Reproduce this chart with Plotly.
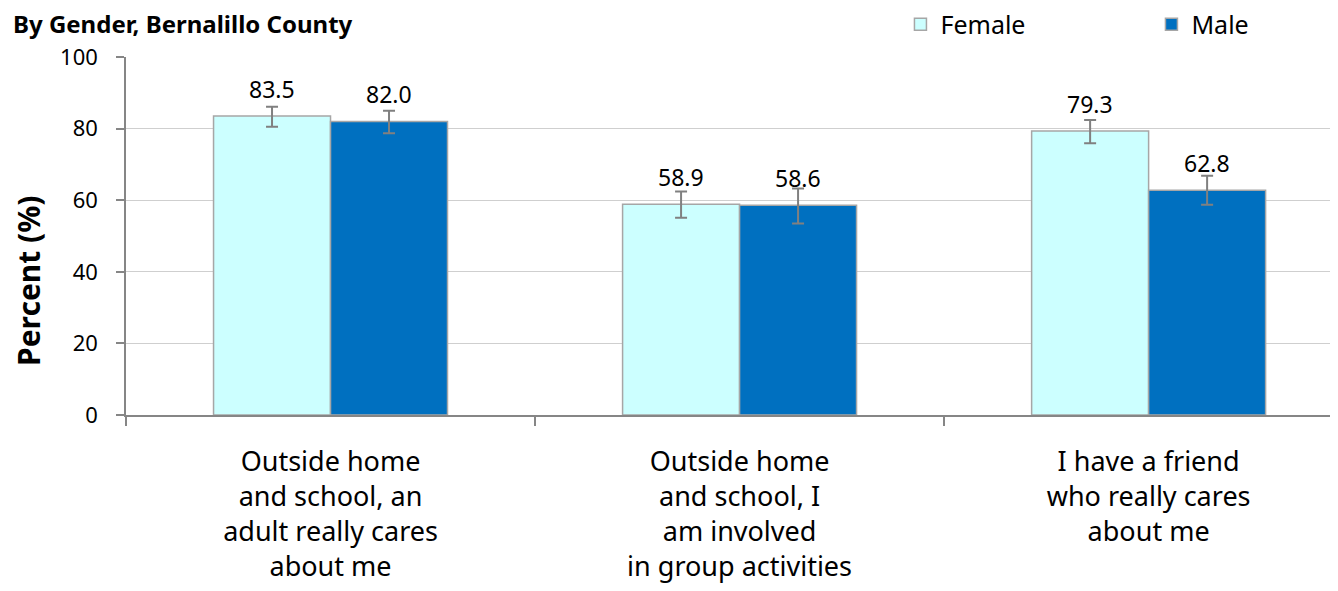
import plotly.graph_objects as go

# data
categories = [
    "Outside home<br>and school, an<br>adult really cares<br>about me",
    "Outside home<br>and school, I<br>am involved<br>in group activities",
    "I have a friend<br>who really cares<br>about me",
]
female = [83.5, 58.9, 79.3]
male = [82.0, 58.6, 62.8]
female_plus = [2.6, 3.5, 3.1]
female_minus = [3.0, 3.8, 3.4]
male_plus = [3.0, 4.7, 4.0]
male_minus = [3.3, 5.1, 4.1]

font_family = "Noto Sans"
colors = {"Female": "#CCFFFF", "Male": "#0070C0"}

fig = go.Figure()

series = [
    ("Female", female, female_plus, female_minus),
    ("Male", male, male_plus, male_minus),
]
for name, vals, plus, minus in series:
    fig.add_trace(go.Bar(
        name=name,
        x=categories,
        y=vals,
        marker=dict(color=colors[name], line=dict(color="#A6A6A6", width=1.5)),
        error_y=dict(type="data", symmetric=False, array=plus, arrayminus=minus,
                     color="#808080", thickness=2, width=6),
    ))

# value labels above each bar
for i, (name, vals, _, _) in enumerate(series):
    shift = -58.5 if i == 0 else 58.5
    for cat, v in zip(categories, vals):
        fig.add_annotation(x=cat, y=v, text=f"{v:.1f}", showarrow=False,
                           xshift=shift, yshift=27, yanchor="middle",
                           font=dict(size=23, color="#000000", family=font_family))

fig.add_annotation(text="<b>Percent (%)</b>", textangle=-90, showarrow=False,
                   xref="paper", yref="paper", x=-0.081, y=0.374,
                   xanchor="center", yanchor="middle",
                   font=dict(size=30, color="#000000", family=font_family))

# chart title in the top-left corner
fig.add_annotation(text="<b>By Gender, Bernalillo County</b>", showarrow=False,
                   xref="paper", yref="paper", x=-0.095, y=1.093,
                   xanchor="left", yanchor="middle",
                   font=dict(size=24, color="#000000", family=font_family))

# the page adds an 8px body margin, so the plot box is set 8px up/left
fig.update_layout(
    width=1338, height=591,
    margin=dict(l=118, r=8, t=49, b=184, autoexpand=False),
    paper_bgcolor="white", plot_bgcolor="white",
    font=dict(family=font_family, color="#000000"),
    barmode="group", bargap=0.428, bargroupgap=0,
    showlegend=True,
    legend=dict(orientation="h", xref="container", yref="container",
                x=0.667, xanchor="left", y=0.972, yanchor="middle",
                entrywidth=206, entrywidthmode="pixels",
                font=dict(size=25, color="#000000", family=font_family),
                bgcolor="rgba(0,0,0,0)"),
    xaxis=dict(range=[-0.5, 2.463], showline=True, linecolor="#868686", linewidth=1.5,
               ticks="outside", tickson="boundaries", ticklen=9, tickcolor="#868686",
               tickwidth=1.5, ticklabelstandoff=22, automargin=False,
               tickfont=dict(size=27, color="#000000", family=font_family)),
    yaxis=dict(range=[0, 100], dtick=20, showline=True, linecolor="#868686", linewidth=1.5,
               ticks="outside", ticklen=8, tickcolor="#868686", tickwidth=1.5,
               gridcolor="#CFCFCF", gridwidth=1.2, zeroline=False,
               ticklabelstandoff=14, automargin=False,
               tickfont=dict(size=22, color="#000000", family=font_family)),
)

fig.write_html("out.html")
